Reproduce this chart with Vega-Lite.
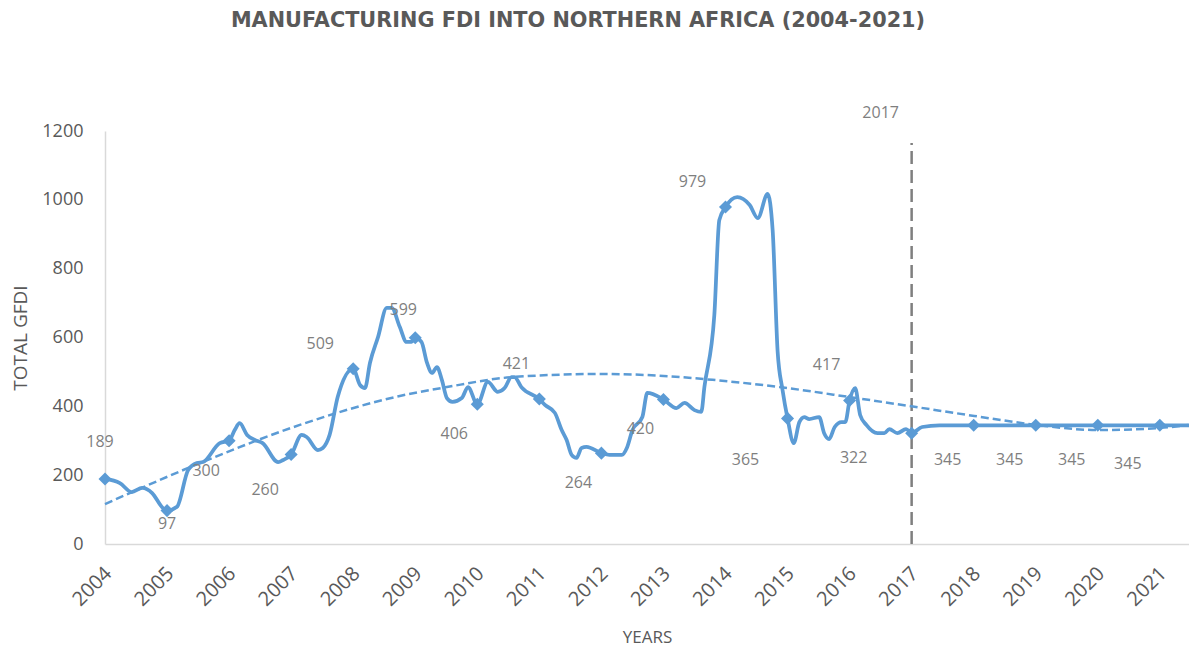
{
  "$schema": "https://vega.github.io/schema/vega-lite/v6.json",
  "width": 1084,
  "height": 413,
  "autosize": {"type": "none"},
  "padding": {"left": 105, "top": 131, "right": 0, "bottom": 104},
  "background": "#ffffff",
  "title": {
    "text": "MANUFACTURING FDI INTO NORTHERN AFRICA (2004-2021)",
    "anchor": "middle",
    "frame": "group",
    "dx": -69,
    "offset": 57,
    "baseline": "alphabetic",
    "font": "DejaVu Sans",
    "fontSize": 20.8,
    "fontWeight": "bold",
    "color": "#595959"
  },
  "datasets": {
    "series": [
      {"year": 2004.0, "value": 189}, {"year": 2004.24, "value": 177}, {"year": 2004.43, "value": 151},
      {"year": 2004.6, "value": 163}, {"year": 2004.76, "value": 148}, {"year": 2004.93, "value": 105},
      {"year": 2005.0, "value": 97}, {"year": 2005.16, "value": 108}, {"year": 2005.34, "value": 215},
      {"year": 2005.48, "value": 235}, {"year": 2005.58, "value": 238}, {"year": 2005.85, "value": 293},
      {"year": 2006.0, "value": 300}, {"year": 2006.09, "value": 331}, {"year": 2006.17, "value": 351},
      {"year": 2006.29, "value": 317}, {"year": 2006.42, "value": 302}, {"year": 2006.54, "value": 293},
      {"year": 2006.79, "value": 238}, {"year": 2006.87, "value": 244}, {"year": 2007.0, "value": 260},
      {"year": 2007.17, "value": 317}, {"year": 2007.25, "value": 311}, {"year": 2007.43, "value": 273},
      {"year": 2007.51, "value": 279}, {"year": 2007.62, "value": 317}, {"year": 2007.75, "value": 427},
      {"year": 2008.0, "value": 509}, {"year": 2008.11, "value": 462}, {"year": 2008.19, "value": 453},
      {"year": 2008.27, "value": 526}, {"year": 2008.4, "value": 601}, {"year": 2008.54, "value": 686},
      {"year": 2008.62, "value": 686}, {"year": 2008.75, "value": 631}, {"year": 2008.86, "value": 587},
      {"year": 2008.94, "value": 587}, {"year": 2009.0, "value": 599}, {"year": 2009.1, "value": 587},
      {"year": 2009.19, "value": 526}, {"year": 2009.27, "value": 497}, {"year": 2009.35, "value": 514},
      {"year": 2009.43, "value": 476}, {"year": 2009.51, "value": 424}, {"year": 2009.6, "value": 413},
      {"year": 2009.75, "value": 424}, {"year": 2009.85, "value": 456}, {"year": 2010.0, "value": 406},
      {"year": 2010.17, "value": 471}, {"year": 2010.33, "value": 442}, {"year": 2010.44, "value": 453},
      {"year": 2010.55, "value": 485}, {"year": 2010.6, "value": 485}, {"year": 2010.71, "value": 456},
      {"year": 2011.0, "value": 421}, {"year": 2011.09, "value": 404}, {"year": 2011.25, "value": 381},
      {"year": 2011.36, "value": 331}, {"year": 2011.44, "value": 302}, {"year": 2011.52, "value": 259},
      {"year": 2011.6, "value": 250}, {"year": 2011.68, "value": 279}, {"year": 2011.76, "value": 282},
      {"year": 2012.0, "value": 264}, {"year": 2012.13, "value": 259}, {"year": 2012.33, "value": 259},
      {"year": 2012.41, "value": 279}, {"year": 2012.5, "value": 331}, {"year": 2012.66, "value": 369},
      {"year": 2012.74, "value": 439}, {"year": 2013.0, "value": 420}, {"year": 2013.21, "value": 395},
      {"year": 2013.34, "value": 410}, {"year": 2013.5, "value": 389}, {"year": 2013.61, "value": 384},
      {"year": 2013.66, "value": 456}, {"year": 2013.82, "value": 665}, {"year": 2013.9, "value": 941},
      {"year": 2014.0, "value": 979}, {"year": 2014.19, "value": 1008}, {"year": 2014.39, "value": 985},
      {"year": 2014.52, "value": 947}, {"year": 2014.68, "value": 1017}, {"year": 2014.76, "value": 912},
      {"year": 2014.84, "value": 560}, {"year": 2014.92, "value": 447}, {"year": 2015.0, "value": 365},
      {"year": 2015.1, "value": 293}, {"year": 2015.19, "value": 354}, {"year": 2015.27, "value": 369},
      {"year": 2015.35, "value": 363}, {"year": 2015.51, "value": 369}, {"year": 2015.59, "value": 322},
      {"year": 2015.67, "value": 305}, {"year": 2015.76, "value": 340}, {"year": 2015.87, "value": 354},
      {"year": 2015.93, "value": 354}, {"year": 2016.0, "value": 417}, {"year": 2016.09, "value": 453},
      {"year": 2016.17, "value": 375}, {"year": 2016.27, "value": 346}, {"year": 2016.45, "value": 322},
      {"year": 2016.56, "value": 322}, {"year": 2016.64, "value": 334}, {"year": 2016.77, "value": 322},
      {"year": 2016.91, "value": 334}, {"year": 2017.0, "value": 322}, {"year": 2017.17, "value": 340},
      {"year": 2017.45, "value": 345}, {"year": 2018.0, "value": 345}, {"year": 2019.0, "value": 345},
      {"year": 2020.0, "value": 345}, {"year": 2021.0, "value": 345}, {"year": 2021.47, "value": 345}
    ],
    "annual": [
      {"year": 2004, "value": 189}, {"year": 2005, "value": 97}, {"year": 2006, "value": 300},
      {"year": 2007, "value": 260}, {"year": 2008, "value": 509}, {"year": 2009, "value": 599},
      {"year": 2010, "value": 406}, {"year": 2011, "value": 421}, {"year": 2012, "value": 264},
      {"year": 2013, "value": 420}, {"year": 2014, "value": 979}, {"year": 2015, "value": 365},
      {"year": 2016, "value": 417}, {"year": 2017, "value": 322}, {"year": 2018, "value": 345},
      {"year": 2019, "value": 345}, {"year": 2020, "value": 345}, {"year": 2021, "value": 345}
    ],
    "trend": [
      {"year": 2004.0, "value": 116}, {"year": 2005.53, "value": 235}, {"year": 2007.14, "value": 346},
      {"year": 2008.75, "value": 430}, {"year": 2009.51, "value": 456}, {"year": 2010.57, "value": 485},
      {"year": 2011.97, "value": 494}, {"year": 2012.73, "value": 491}, {"year": 2013.79, "value": 477},
      {"year": 2014.87, "value": 456}, {"year": 2016.0, "value": 427}, {"year": 2016.96, "value": 401},
      {"year": 2018.01, "value": 372}, {"year": 2019.01, "value": 346}, {"year": 2020.01, "value": 331},
      {"year": 2021.0, "value": 337}, {"year": 2021.46, "value": 346}
    ],
    "vline": [
      {"year": 2017, "value": 0, "top": 1165, "label": "2017"}
    ]
  },
  "encoding": {
    "x": {
      "field": "year",
      "type": "quantitative",
      "scale": {"domain": [2004, 2021.47], "nice": false, "zero": false},
      "axis": {
        "values": [2004, 2005, 2006, 2007, 2008, 2009, 2010, 2011, 2012, 2013, 2014, 2015, 2016, 2017, 2018, 2019, 2020, 2021],
        "format": "d",
        "labelAngle": -45,
        "labelFontSize": 20,
        "labelPadding": 19,
        "labelOffset": -4,
        "title": "YEARS",
        "titleFontSize": 17,
        "titlePadding": 20
      }
    },
    "y": {
      "field": "value",
      "type": "quantitative",
      "scale": {"domain": [0, 1200], "nice": false, "zero": true},
      "axis": {
        "values": [0, 200, 400, 600, 800, 1000, 1200],
        "format": "d",
        "labelFontSize": 18,
        "labelPadding": 22,
        "title": "TOTAL GFDI",
        "titleFontSize": 19,
        "titlePadding": 11
      }
    }
  },
  "layer": [
    {
      "data": {"name": "vline"},
      "mark": {"type": "rule", "color": "#7F7F7F", "strokeWidth": 2.5, "strokeDash": [13, 6]},
      "encoding": {"y2": {"field": "top"}}
    },
    {
      "data": {"name": "vline"},
      "mark": {"type": "text", "font": "Open Sans", "fontSize": 16, "color": "#7F7F7F", "dx": -31, "dy": -30, "baseline": "middle", "align": "center"},
      "encoding": {"y": {"field": "top", "type": "quantitative"}, "text": {"field": "label"}}
    },
    {
      "data": {"name": "trend"},
      "mark": {"type": "line", "color": "#5B9BD5", "strokeWidth": 2.5, "strokeDash": [8, 4], "interpolate": "monotone"},
      "encoding": {}
    },
    {
      "data": {"name": "series"},
      "mark": {"type": "line", "color": "#5B9BD5", "strokeWidth": 3.75, "interpolate": "monotone", "strokeJoin": "round"},
      "encoding": {}
    },
    {
      "data": {"name": "annual"},
      "mark": {"type": "point", "shape": "diamond", "filled": true, "size": 170, "color": "#5B9BD5", "opacity": 1},
      "encoding": {}
    },
    {
      "data": {"name": "annual"},
      "transform": [{"filter": {"field": "year", "oneOf": [2004]}}],
      "mark": {"type": "text", "font": "Open Sans", "fontSize": 16, "color": "#7F7F7F", "dx": -5, "dy": -37},
      "encoding": {"text": {"field": "value", "format": "d"}}
    },
    {
      "data": {"name": "annual"},
      "transform": [{"filter": {"field": "year", "oneOf": [2005]}}],
      "mark": {"type": "text", "font": "Open Sans", "fontSize": 16, "color": "#7F7F7F", "dx": 0, "dy": 13},
      "encoding": {"text": {"field": "value", "format": "d"}}
    },
    {
      "data": {"name": "annual"},
      "transform": [{"filter": {"field": "year", "oneOf": [2009]}}],
      "mark": {"type": "text", "font": "Open Sans", "fontSize": 16, "color": "#7F7F7F", "dx": -12, "dy": -28},
      "encoding": {"text": {"field": "value", "format": "d"}}
    },
    {
      "data": {"name": "annual"},
      "transform": [{"filter": {"field": "year", "oneOf": [2008, 2014]}}],
      "mark": {"type": "text", "font": "Open Sans", "fontSize": 16, "color": "#7F7F7F", "dx": -33, "dy": -25},
      "encoding": {"text": {"field": "value", "format": "d"}}
    },
    {
      "data": {"name": "annual"},
      "transform": [{"filter": {"field": "year", "oneOf": [2011, 2016]}}],
      "mark": {"type": "text", "font": "Open Sans", "fontSize": 16, "color": "#7F7F7F", "dx": -23, "dy": -35},
      "encoding": {"text": {"field": "value", "format": "d"}}
    },
    {
      "data": {"name": "annual"},
      "transform": [{"filter": {"field": "year", "oneOf": [2006, 2010, 2012, 2013]}}],
      "mark": {"type": "text", "font": "Open Sans", "fontSize": 16, "color": "#7F7F7F", "dx": -23, "dy": 30},
      "encoding": {"text": {"field": "value", "format": "d"}}
    },
    {
      "data": {"name": "annual"},
      "transform": [{"filter": {"field": "year", "oneOf": [2007, 2018, 2019, 2020]}}],
      "mark": {"type": "text", "font": "Open Sans", "fontSize": 16, "color": "#7F7F7F", "dx": -26, "dy": 35},
      "encoding": {"text": {"field": "value", "format": "d"}}
    },
    {
      "data": {"name": "annual"},
      "transform": [{"filter": {"field": "year", "oneOf": [2015]}}],
      "mark": {"type": "text", "font": "Open Sans", "fontSize": 16, "color": "#7F7F7F", "dx": -42, "dy": 42},
      "encoding": {"text": {"field": "value", "format": "d"}}
    },
    {
      "data": {"name": "annual"},
      "transform": [{"filter": {"field": "year", "oneOf": [2017]}}],
      "mark": {"type": "text", "font": "Open Sans", "fontSize": 16, "color": "#7F7F7F", "dx": -58, "dy": 25},
      "encoding": {"text": {"field": "value", "format": "d"}}
    },
    {
      "data": {"name": "annual"},
      "transform": [{"filter": {"field": "year", "oneOf": [2021]}}],
      "mark": {"type": "text", "font": "Open Sans", "fontSize": 16, "color": "#7F7F7F", "dx": -32, "dy": 39},
      "encoding": {"text": {"field": "value", "format": "d"}}
    }
  ],
  "config": {
    "view": {"stroke": null},
    "text": {"baseline": "middle", "align": "center"},
    "axis": {
      "grid": false,
      "ticks": false,
      "tickSize": 0,
      "domainColor": "#D9D9D9",
      "domainWidth": 1.5,
      "labelFont": "Open Sans",
      "labelColor": "#595959",
      "titleFont": "Open Sans",
      "titleFontWeight": "normal",
      "titleColor": "#595959"
    }
  }
}
